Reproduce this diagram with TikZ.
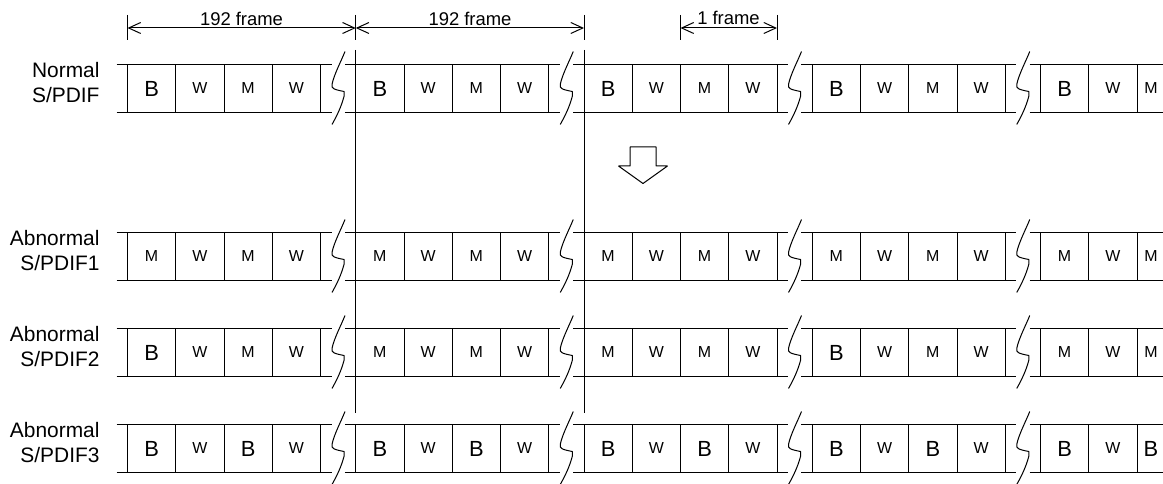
\documentclass[tikz,border=0pt]{standalone}
\usepackage{fontspec}
\setmainfont{Liberation Sans}
\usetikzlibrary{arrows.meta}
\newcommand\cellchar[1]{\if B#1{\fontsize{22}{24}\selectfont B}\else{\fontsize{16}{18}\selectfont #1}\fi}
\tikzset{
  cellbox/.style={draw,minimum height=48bp,inner sep=0pt},
  rowlabel/.style={anchor=east,align=right,inner sep=0pt,font=\fontsize{21}{26}\selectfont},
  dimtext/.style={anchor=base,inner sep=0pt,font=\fontsize{18.5}{20}\selectfont},
  pics/zigzag/.style={code={\draw (7,-37) .. controls (3,-27) and (-4,-14) .. (-6,-4) .. controls (-7,0) and (-4,1) .. (6,3) -- (6,8) .. controls (3,19) and (-1,27) .. (-6,36);}}
}
\begin{document}
\begin{tikzpicture}[x=1bp,y=-1bp,>={Straight Barb[length=12bp,width=11bp]},line width=1bp,line join=bevel]
\useasboundingbox (0,0) rectangle (1163,484);
\clip (0,0) rectangle (1163,484);
%%
\node (lab_1) at (100,82.5) [rowlabel] {Normal\\S/PDIF};
\node (lab_2) at (100,250.5) [rowlabel] {Abnormal\\S/PDIF1};
\node (lab_3) at (100,346.5) [rowlabel] {Abnormal\\S/PDIF2};
\node (lab_4) at (100,442.5) [rowlabel] {Abnormal\\S/PDIF3};
%
\foreach \r/\ty/\pat in {
  1/64.5/{B/W/M/W,B/W/M/W,B/W/M/W,B/W/M/W,B/W/M/W},
  2/232.5/{M/W/M/W,M/W/M/W,M/W/M/W,M/W/M/W,M/W/M/W},
  3/328.5/{B/W/M/W,M/W/M/W,M/W/M/W,B/W/M/W,M/W/M/W},
  4/424.5/{B/W/B/W,B/W/B/W,B/W/B/W,B/W/B/W,B/W/B/W}}{
  \foreach \a/\b/\c/\d [count=\g from 0] in \pat {
    \pgfmathsetmacro\gx{127.5+228.25*\g}
    \foreach \t [count=\k from 0] in {\a,\b,\c,\d}{
      \pgfmathsetmacro\cw{(\g==4 && \k==2) ? 28 : 48.25}
      \pgfmathtruncatemacro\hidecell{(\g==4 && \k==3) ? 1 : 0}
      \ifnum\hidecell=0
        \node (cell_\r_\g_\k) at (\gx+48.25*\k+\cw/2,\ty+24) [cellbox,minimum width=\cw bp] {\cellchar{\t}};
      \fi
    }
    \draw (\gx-11,\ty) -- (\gx+204,\ty) (\gx-11,\ty+48) -- (\gx+204,\ty+48);
    \ifnum\g<4 \pic at (\gx+210.5,\ty+24) {zigzag};\fi
  }
}
%
\coordinate (m_0) at (127.5,28);
\coordinate (m_1) at (355.75,28);
\coordinate (m_2) at (584,28);
\coordinate (m_3) at (680.5,28);
\coordinate (m_4) at (777,28);
\foreach \m in {0,...,4}
  \draw ([yshift=13bp]m_\m) -- ([yshift=-12bp]m_\m);
\draw [black,<->] (m_0) -- (m_1);
\draw [black,<->] (m_1) -- (m_2);
\draw [black,<->] (m_3) -- (m_4);
\node (dim_1) at (241.5,26) [dimtext] {192 frame};
\node (dim_2) at (470,26) [dimtext] {192 frame};
\node (dim_3) at (728.5,25) [dimtext] {1 frame};
%
\coordinate (v_1a) at (355.75,50);
\coordinate (v_1b) at (355.75,413);
\coordinate (v_2a) at (584,50);
\coordinate (v_2b) at (584,413);
\draw (v_1a) -- (v_1b);
\draw (v_2a) -- (v_2b);
%
\draw (630,147) -- (656,147) -- (656,166) -- (667.5,166) -- (643,183.5) -- (618.5,166) -- (630,166) -- cycle;
%
\end{tikzpicture}
\end{document}
